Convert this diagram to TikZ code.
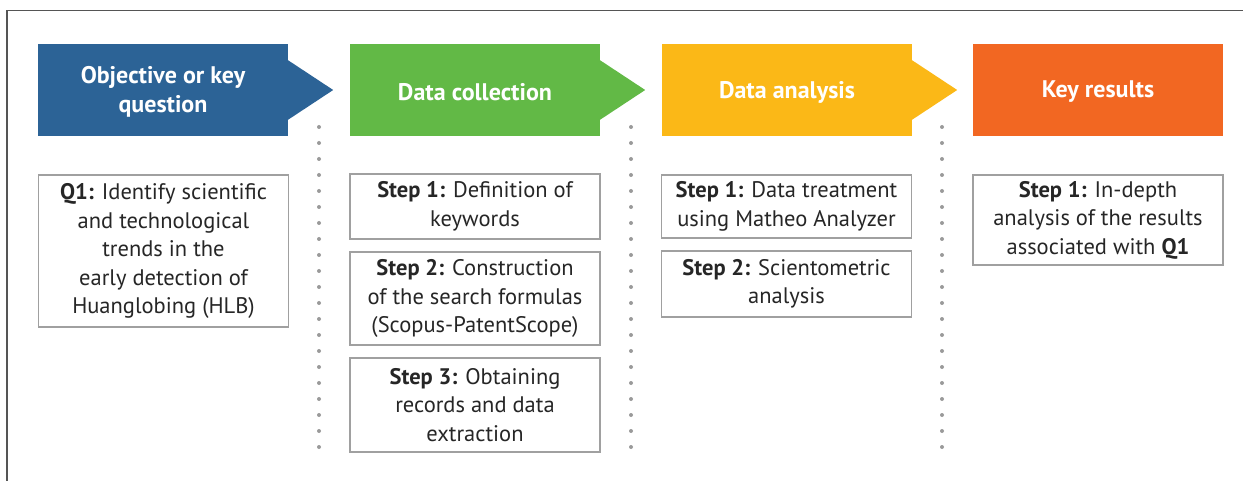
\documentclass[tikz,border=0pt]{standalone}
\usepackage{fontspec}
\setmainfont{PT Sans}
\definecolor{cBlue}{HTML}{2C6396}
\definecolor{cGreen}{HTML}{62B946}
\definecolor{cYellow}{HTML}{FBB817}
\definecolor{cOrange}{HTML}{F26722}
\definecolor{cBorder}{HTML}{A0A0A0}
\definecolor{cDot}{HTML}{9A9A9A}
\definecolor{cFrame}{HTML}{555555}
\begin{document}
\begin{tikzpicture}[x=1pt,y=-1pt,
  hdr/.style={minimum width=250pt, minimum height=92pt, inner sep=0pt, text=white, align=center,
    font=\fontsize{24}{29}\selectfont\bfseries},
  hdrtext/.style={inner sep=0pt, text=white, align=center, font=\fontsize{24}{29}\selectfont\bfseries},
  txtbox/.style={draw=cBorder, line width=1.3pt, fill=white, minimum width=250pt, inner sep=0pt,
    align=center, text=black!85, font=\fontsize{22.5}{28.5}\selectfont},
]
\useasboundingbox (0,0) rectangle (1243,481);
\draw[cFrame, line width=1.4pt] (7,481) -- (7,10.5) -- (1243,10.5);

% headers
\node[hdr, fill=cBlue] (h1) at (163,90) {};
\node[hdr, fill=cGreen] (h2) at (475,90) {};
\node[hdr, fill=cYellow] (h3) at (787,90) {};
\node[hdr, fill=cOrange] (h4) at (1098,90) {};
\fill[cBlue, shift={(h1.east)}] (-0.5,-30) -- (45,0) -- (-0.5,30) -- cycle;
\fill[cGreen, shift={(h2.east)}] (-0.5,-30) -- (45,0) -- (-0.5,30) -- cycle;
\fill[cYellow, shift={(h3.east)}] (-0.5,-30) -- (45,0) -- (-0.5,30) -- cycle;
\node[hdrtext] (t1) at (163,92) {Objective or key\\question};
\node[hdrtext] (t2) at (475,92) {Data collection};
\node[hdrtext] (t3) at (787,92) {Data analysis};
\node[hdrtext] (t4) at (1098,92) {Key results};

% dotted separators
\foreach \x in {319,631,942}{
  \foreach \i in {0,...,20}{
    \fill[cDot] (\x,127+16*\i) circle (2pt);
  }
}

% text boxes
\node[txtbox, minimum height=152pt] (q1) at (163.5,251) {\textbf{Q1:} Identify scientific\\and technological\\trends in the\\early detection of\\Huanglobing (HLB)};
\node[txtbox, minimum height=65pt] (g1) at (475,206.5) {\textbf{Step 1:} Definition of\\keywords};
\node[txtbox, minimum height=93pt] (g2) at (475,298.5) {\textbf{Step 2:} Construction\\of the search formulas\\(Scopus-PatentScope)};
\node[txtbox, minimum height=94pt] (g3) at (475,405) {\textbf{Step 3:} Obtaining\\records and data\\extraction};
\node[txtbox, minimum height=63pt] (y1) at (786.5,206.5) {\textbf{Step 1:} Data treatment\\using Matheo Analyzer};
\node[txtbox, minimum height=66pt] (y2) at (786.5,284) {\textbf{Step 2:} Scientometric\\analysis};
\node[txtbox, minimum height=90pt] (o1) at (1098,220) {\textbf{Step 1:} In-depth\\analysis of the results\\associated with \textbf{Q1}};
\end{tikzpicture}
\end{document}
